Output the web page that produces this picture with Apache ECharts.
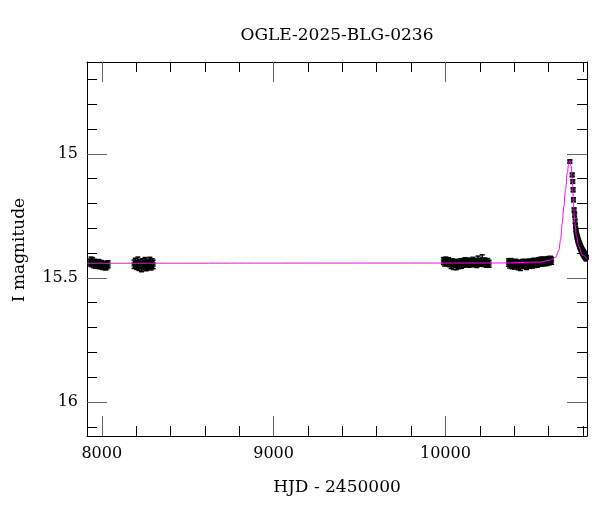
<!DOCTYPE html>
<html>
<head>
<meta charset="utf-8">
<script src="https://cdn.jsdelivr.net/npm/echarts@6/dist/echarts.min.js"></script>
<style>html,body{margin:0;padding:0;background:#fff}#c{width:600px;height:512px}</style>
</head>
<body>
<div id="c"></div>
<script>
// ---- data: [HJD-2450000, I mag, error] ----
const season1 = [[7933,15.438,0.014],[7938,15.432,0.016],[7942,15.441,0.014],[7947,15.436,0.017],[7953,15.444,0.015],[7958,15.439,0.014],[7964,15.445,0.016],[7970,15.442,0.014],[7976,15.447,0.015],[7983,15.443,0.017],[7990,15.449,0.014],[7998,15.446,0.016],[8006,15.451,0.015],[8014,15.447,0.014],[8022,15.452,0.016],[8030,15.449,0.015],[8037,15.445,0.014]];
const season2 = [[8188,15.445,0.017],[8195,15.440,0.019],[8203,15.448,0.018],[8210,15.436,0.020],[8217,15.452,0.018],[8224,15.444,0.019],[8231,15.455,0.020],[8238,15.441,0.018],[8245,15.449,0.019],[8252,15.438,0.020],[8259,15.453,0.018],[8266,15.443,0.019],[8273,15.447,0.018],[8280,15.437,0.020],[8287,15.450,0.018],[8294,15.442,0.019],[8299,15.446,0.017]];
const season3 = [[9988,15.432,0.014],[9995,15.437,0.015],[10003,15.430,0.014],[10010,15.436,0.016],[10018,15.433,0.014],[10025,15.440,0.015],[10033,15.445,0.017],[10040,15.438,0.015],[10048,15.448,0.018],[10055,15.441,0.016],[10063,15.450,0.017],[10070,15.443,0.015],[10078,15.447,0.016],[10085,15.438,0.015],[10093,15.444,0.017],[10100,15.436,0.014],[10108,15.441,0.016],[10115,15.434,0.015],[10123,15.440,0.014],[10130,15.437,0.016],[10138,15.442,0.015],[10145,15.435,0.014],[10153,15.439,0.015],[10160,15.433,0.016],[10168,15.441,0.014],[10175,15.436,0.015],[10183,15.442,0.016],[10190,15.430,0.018],[10198,15.438,0.015],[10206,15.435,0.014],[10214,15.426,0.019],[10222,15.439,0.015],[10230,15.434,0.014],[10238,15.441,0.016],[10246,15.437,0.015],[10254,15.443,0.014]];
const season4 = [[10367,15.438,0.015],[10374,15.444,0.016],[10381,15.436,0.014],[10388,15.446,0.017],[10395,15.441,0.015],[10402,15.448,0.016],[10409,15.439,0.014],[10416,15.445,0.015],[10423,15.450,0.017],[10430,15.443,0.015],[10437,15.452,0.018],[10444,15.446,0.016],[10451,15.440,0.015],[10458,15.447,0.014],[10465,15.442,0.016],[10472,15.449,0.017],[10479,15.444,0.015],[10486,15.438,0.014],[10493,15.445,0.016],[10500,15.440,0.015],[10507,15.446,0.014],[10514,15.437,0.016],[10521,15.443,0.015],[10528,15.436,0.014],[10535,15.441,0.016],[10542,15.434,0.015],[10549,15.439,0.014],[10556,15.432,0.016],[10563,15.437,0.015],[10570,15.430,0.014],[10577,15.436,0.015],[10584,15.431,0.014],[10591,15.434,0.016],[10598,15.429,0.015],[10605,15.433,0.014],[10612,15.428,0.015],[10618,15.431,0.014]];
const season5 = [[10724,15.031,0.006],[10738,15.085,0.007],[10741,15.112,0.007],[10743,15.145,0.008],[10745,15.185,0.008],[10749,15.226,0.008],[10752,15.246,0.009],[10755,15.272,0.009],[10757,15.290,0.009],[10759,15.305,0.010],[10761,15.315,0.010],[10763,15.322,0.010],[10765,15.330,0.010],[10767,15.336,0.010],[10769,15.340,0.011],[10771,15.346,0.011],[10773,15.352,0.011],[10775,15.355,0.011],[10777,15.360,0.011],[10779,15.364,0.011],[10781,15.368,0.012],[10783,15.372,0.012],[10785,15.375,0.012],[10787,15.378,0.012],[10789,15.382,0.012],[10791,15.385,0.012],[10793,15.388,0.012],[10795,15.390,0.012],[10797,15.393,0.012],[10799,15.396,0.012],[10801,15.398,0.013],[10803,15.400,0.013],[10805,15.403,0.013],[10807,15.405,0.013],[10809,15.407,0.013],[10811,15.409,0.013],[10813,15.411,0.013],[10815,15.413,0.013],[10817,15.415,0.013],[10819,15.417,0.013],[10821,15.418,0.013]];
// model curve: [HJD-2450000, I mag]
const model = [[7914,15.441],[10320,15.440],[10553,15.436],[10612,15.428],[10641,15.417],[10660,15.389],[10670,15.347],[10680,15.279],[10689,15.212],[10699,15.145],[10709,15.078],[10718,15.038],[10724,15.027],[10732,15.051],[10738,15.105],[10744,15.172],[10747,15.220],[10753,15.277],[10763,15.333],[10777,15.374],[10796,15.407],[10826,15.424]];
// axis ticks / labels
const xMajor = [8000, 9000, 10000];
const xMinor = [8200, 8400, 8600, 8800, 9200, 9400, 9600, 9800, 10200, 10400, 10600, 10800];
const yMajor = [15, 15.5, 16];
const yMinor = [14.7, 14.8, 14.9, 15.1, 15.2, 15.3, 15.4, 15.6, 15.7, 15.8, 15.9, 16.1];
const titleText = 'OGLE-2025-BLG-0236';
const xTitle = 'HJD - 2450000';
const yTitle = 'I magnitude';

const X_MIN = 7914, X_MAX = 10824, Y_MIN = 14.63, Y_MAX = 16.137;
const FONT = 'DejaVu Serif';
const points = season1.concat(season2, season3, season4, season5);

function xAx(pos, ticks, len, color, labels, line) {
  return {
    type: 'value', position: pos, min: X_MIN, max: X_MAX, gridIndex: 0,
    splitLine: {show: false},
    axisLine: {show: line, lineStyle: {color: '#000', width: 1}},
    axisTick: {show: true, inside: true, length: len, customValues: ticks, lineStyle: {color: color, width: 1}},
    axisLabel: labels ? {show: true, customValues: xMajor, margin: 10, color: '#000', fontFamily: FONT, fontSize: 16,
      formatter: v => String(v)} : {show: false}
  };
}
function yAx(pos, ticks, len, color, labels, line) {
  return {
    type: 'value', position: pos, min: Y_MIN, max: Y_MAX, inverse: true, gridIndex: 0,
    splitLine: {show: false},
    axisLine: {show: line, lineStyle: {color: '#000', width: 1}},
    axisTick: {show: true, inside: true, length: len, customValues: ticks, lineStyle: {color: color, width: 1}},
    axisLabel: labels ? {show: true, customValues: yMajor, margin: 9, color: '#000', fontFamily: FONT, fontSize: 16,
      formatter: v => String(v)} : {show: false}
  };
}

const chart = echarts.init(document.getElementById('c'), null, {renderer: 'canvas'});
chart.setOption({
  animation: false,
  backgroundColor: '#fff',
  grid: {left: 87, right: 13, top: 62, bottom: 76, containLabel: false},
  xAxis: [
    xAx('bottom', xMajor, 20, '#666', true, true),
    xAx('bottom', xMinor, 10, '#000', false, false),
    xAx('top', xMajor, 20, '#666', false, true),
    xAx('top', xMinor, 10, '#000', false, false)
  ],
  yAxis: [
    yAx('left', yMajor, 20, '#666', true, true),
    yAx('left', yMinor, 10, '#000', false, false),
    yAx('right', yMajor, 20, '#666', false, true),
    yAx('right', yMinor, 10, '#000', false, false)
  ],
  graphic: [
    {type: 'text', x: 337, y: 36, style: {text: titleText, fill: '#000', font: '17px "DejaVu Serif"', textAlign: 'center', textVerticalAlign: 'middle'}},
    {type: 'text', x: 337, y: 488, style: {text: xTitle, fill: '#000', font: '17px "DejaVu Serif"', textAlign: 'center', textVerticalAlign: 'middle'}},
    {type: 'text', x: 20, y: 250, rotation: Math.PI / 2, style: {text: yTitle, fill: '#000', font: '17px "DejaVu Serif"', textAlign: 'center', textVerticalAlign: 'middle'}}
  ],
  series: [
    {
      type: 'custom', xAxisIndex: 0, yAxisIndex: 0, clip: true, z: 2,
      data: points,
      renderItem: function (params, api) {
        const t = api.value(0), m = api.value(1), e = api.value(2);
        const a = api.coord([t, m - e]);
        const b = api.coord([t, m + e]);
        const st = {stroke: '#000', lineWidth: 1.5};
        return {type: 'group', children: [
          {type: 'line', shape: {x1: a[0], y1: a[1], x2: b[0], y2: b[1]}, style: st},
          {type: 'line', shape: {x1: a[0] - 2.5, y1: a[1], x2: a[0] + 2.5, y2: a[1]}, style: st},
          {type: 'line', shape: {x1: b[0] - 2.5, y1: b[1], x2: b[0] + 2.5, y2: b[1]}, style: st}
        ]};
      }
    },
    {
      type: 'scatter', xAxisIndex: 0, yAxisIndex: 0, clip: true, z: 3,
      symbol: 'rect', symbolSize: 5,
      itemStyle: {color: '#000'},
      data: points.map(p => [p[0], p[1]])
    },
    {
      type: 'line', xAxisIndex: 0, yAxisIndex: 0, clip: true, z: 4,
      data: model, showSymbol: false, symbol: 'none',
      smooth: 0.35, smoothMonotone: 'x',
      lineStyle: {color: '#ff00ff', width: 1}
    }
  ]
});
</script>
</body>
</html>
